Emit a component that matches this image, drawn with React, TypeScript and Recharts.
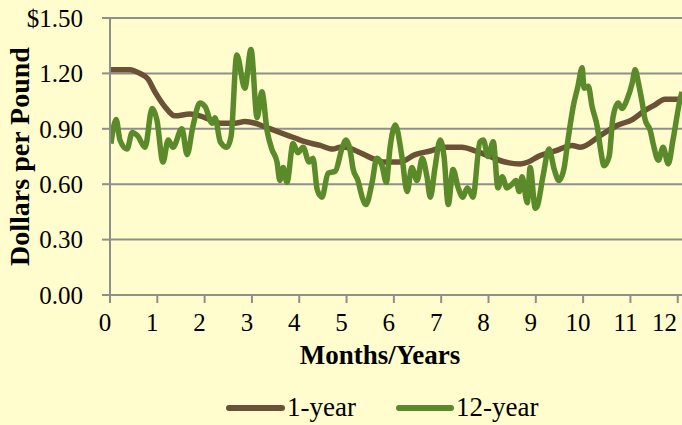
import React from 'react';
import { LineChart, Line, XAxis, YAxis, CartesianGrid, Label } from 'recharts';

// 1-year average price (month, $/lb)
const oneYearMonths = [0.02, 0.21, 0.42, 0.63, 0.8, 0.95, 1.16, 1.37, 1.69, 1.9, 2.11, 2.33, 2.64, 2.85, 3.07, 3.28, 3.59, 3.91, 4.12, 4.44, 4.71, 4.86, 4.97, 5.29, 5.54, 5.81, 6.13, 6.45, 6.77, 7.08, 7.44, 7.72, 8.03, 8.35, 8.67, 8.84, 9.05, 9.41, 9.77, 9.94, 10.4, 10.74, 11.04, 11.31, 11.52, 11.73, 12.09];
const oneYearPrices = [1.22, 1.22, 1.22, 1.2, 1.17, 1.1, 1.02, 0.97, 0.98, 0.97, 0.95, 0.93, 0.93, 0.94, 0.93, 0.91, 0.88, 0.85, 0.83, 0.81, 0.79, 0.8, 0.8, 0.77, 0.74, 0.72, 0.72, 0.76, 0.78, 0.8, 0.8, 0.78, 0.75, 0.72, 0.71, 0.72, 0.75, 0.78, 0.81, 0.8, 0.87, 0.92, 0.95, 1.0, 1.03, 1.06, 1.06];

// 12-year average price (month, $/lb)
const twelveYearMonths = [0.02, 0.13, 0.21, 0.36, 0.47, 0.59, 0.74, 0.89, 0.99, 1.12, 1.23, 1.33, 1.52, 1.63, 1.75, 1.9, 2.01, 2.16, 2.22, 2.33, 2.47, 2.56, 2.68, 2.85, 2.98, 3.11, 3.21, 3.32, 3.42, 3.53, 3.59, 3.66, 3.74, 3.87, 3.97, 4.08, 4.21, 4.29, 4.38, 4.48, 4.61, 4.76, 4.9, 4.99, 5.07, 5.14, 5.24, 5.33, 5.41, 5.54, 5.64, 5.75, 5.84, 5.92, 6.03, 6.17, 6.28, 6.38, 6.49, 6.6, 6.7, 6.77, 6.87, 6.98, 7.06, 7.15, 7.25, 7.36, 7.46, 7.55, 7.61, 7.67, 7.82, 7.89, 7.99, 8.1, 8.2, 8.29, 8.39, 8.5, 8.58, 8.65, 8.71, 8.82, 8.88, 8.99, 9.03, 9.15, 9.28, 9.39, 9.49, 9.6, 9.68, 9.79, 9.89, 9.98, 10.02, 10.11, 10.19, 10.3, 10.38, 10.44, 10.55, 10.63, 10.74, 10.82, 10.93, 11.04, 11.1, 11.16, 11.25, 11.31, 11.42, 11.48, 11.59, 11.69, 11.8, 11.9, 12.05, 12.09];
const twelveYearPrices = [0.82, 0.95, 0.84, 0.79, 0.88, 0.86, 0.8, 1.01, 0.95, 0.72, 0.84, 0.8, 0.9, 0.76, 0.91, 1.04, 1.02, 0.93, 0.96, 0.83, 0.8, 0.86, 1.3, 1.12, 1.33, 0.96, 1.1, 0.89, 0.79, 0.72, 0.62, 0.69, 0.61, 0.82, 0.77, 0.8, 0.72, 0.74, 0.57, 0.53, 0.66, 0.67, 0.79, 0.84, 0.79, 0.68, 0.62, 0.53, 0.49, 0.61, 0.74, 0.7, 0.61, 0.8, 0.92, 0.75, 0.56, 0.69, 0.62, 0.74, 0.64, 0.53, 0.69, 0.84, 0.75, 0.49, 0.68, 0.58, 0.53, 0.58, 0.56, 0.53, 0.83, 0.84, 0.75, 0.83, 0.58, 0.64, 0.58, 0.6, 0.62, 0.56, 0.64, 0.5, 0.69, 0.47, 0.48, 0.64, 0.79, 0.68, 0.62, 0.69, 0.84, 1.02, 1.13, 1.23, 1.12, 1.13, 1.02, 0.91, 0.77, 0.7, 0.75, 0.96, 1.04, 1.01, 1.06, 1.15, 1.22, 1.16, 1.04, 0.95, 0.89, 0.82, 0.73, 0.8, 0.71, 0.84, 1.06, 1.1];

const xTicks = [0, 1, 2, 3, 4, 5, 6, 7, 8, 9, 10, 11, 12];
const yTicks = [0, 0.3, 0.6, 0.9, 1.2, 1.5];
const seriesNames = ['1-year', '12-year'];

const oneYearData = oneYearMonths.map((m, i) => ({ month: m, price: oneYearPrices[i] }));
const twelveYearData = twelveYearMonths.map((m, i) => ({ month: m, price: twelveYearPrices[i] }));

const BROWN = '#6B5236';
const GREEN = '#5B8A2A';
const GRAY = '#8E8E8E';
const BG = '#FFFDCE';
const FONT = '"Liberation Serif", "Times New Roman", serif';

const XLabel = (props: any) => {
  const vb = props.viewBox || { x: 110, y: 295, width: 572, height: 40 };
  return (
    <text x={vb.x + vb.width / 2 - 16} y={vb.y + 69} textAnchor="middle" fontFamily={FONT} fontWeight="bold" fontSize={27} fill="#000">
      Months/Years
    </text>
  );
};

const YLabel = (props: any) => {
  const vb = props.viewBox || { x: 0, y: 18, width: 110, height: 277 };
  const cx = 29;
  const cy = vb.y + vb.height / 2;
  return (
    <text x={cx} y={cy} transform={`rotate(-90 ${cx} ${cy})`} textAnchor="middle" fontFamily={FONT} fontWeight="bold" fontSize={28} fill="#000">
      Dollars per Pound
    </text>
  );
};

export default function App() {
  return (
    <div style={{ position: 'absolute', left: 0, top: 0, width: 682, height: 425, background: BG, overflow: 'hidden' }}>
      <LineChart width={682} height={425} margin={{ top: 18, right: 0, bottom: 90, left: 0 }}>
        <CartesianGrid vertical={false} stroke={GRAY} strokeWidth={2} />
        <XAxis
          type="number"
          dataKey="month"
          domain={[0, 12.09]}
          ticks={xTicks}
          allowDataOverflow
          height={40}
          tickSize={8}
          tickMargin={10}
          axisLine={{ stroke: GRAY, strokeWidth: 2 }}
          tickLine={{ stroke: GRAY, strokeWidth: 2 }}
          tick={{ fill: '#000', fontSize: 25, fontFamily: FONT, dx: -5 }}
        >
          <Label content={XLabel} />
        </XAxis>
        <YAxis
          type="number"
          domain={[0, 1.5]}
          ticks={yTicks}
          width={110}
          tickSize={8}
          tickMargin={19}
          axisLine={{ stroke: GRAY, strokeWidth: 2 }}
          tickLine={{ stroke: GRAY, strokeWidth: 2 }}
          tick={{ fill: '#000', fontSize: 25, fontFamily: FONT }}
          tickFormatter={(v: number) => (v === 1.5 ? '$1.50' : v.toFixed(2))}
        >
          <Label content={YLabel} />
        </YAxis>
        <Line data={oneYearData} dataKey="price" name={seriesNames[0]} type="monotone" stroke={BROWN} strokeWidth={5.5} dot={false} isAnimationActive={false} />
        <Line data={twelveYearData} dataKey="price" name={seriesNames[1]} type="monotone" stroke={GREEN} strokeWidth={5.5} dot={false} isAnimationActive={false} />
      </LineChart>
      <svg width={682} height={425} style={{ position: 'absolute', left: 0, top: 0, pointerEvents: 'none' }}>
        <line x1={229} x2={282} y1={408} y2={408} stroke={BROWN} strokeWidth={6} strokeLinecap="round" />
        <text x={287} y={416} fontFamily={FONT} fontSize={27} fill="#000">{seriesNames[0]}</text>
        <line x1={399} x2={451} y1={408} y2={408} stroke={GREEN} strokeWidth={6} strokeLinecap="round" />
        <text x={456} y={416} fontFamily={FONT} fontSize={27} fill="#000">{seriesNames[1]}</text>
      </svg>
    </div>
  );
}
